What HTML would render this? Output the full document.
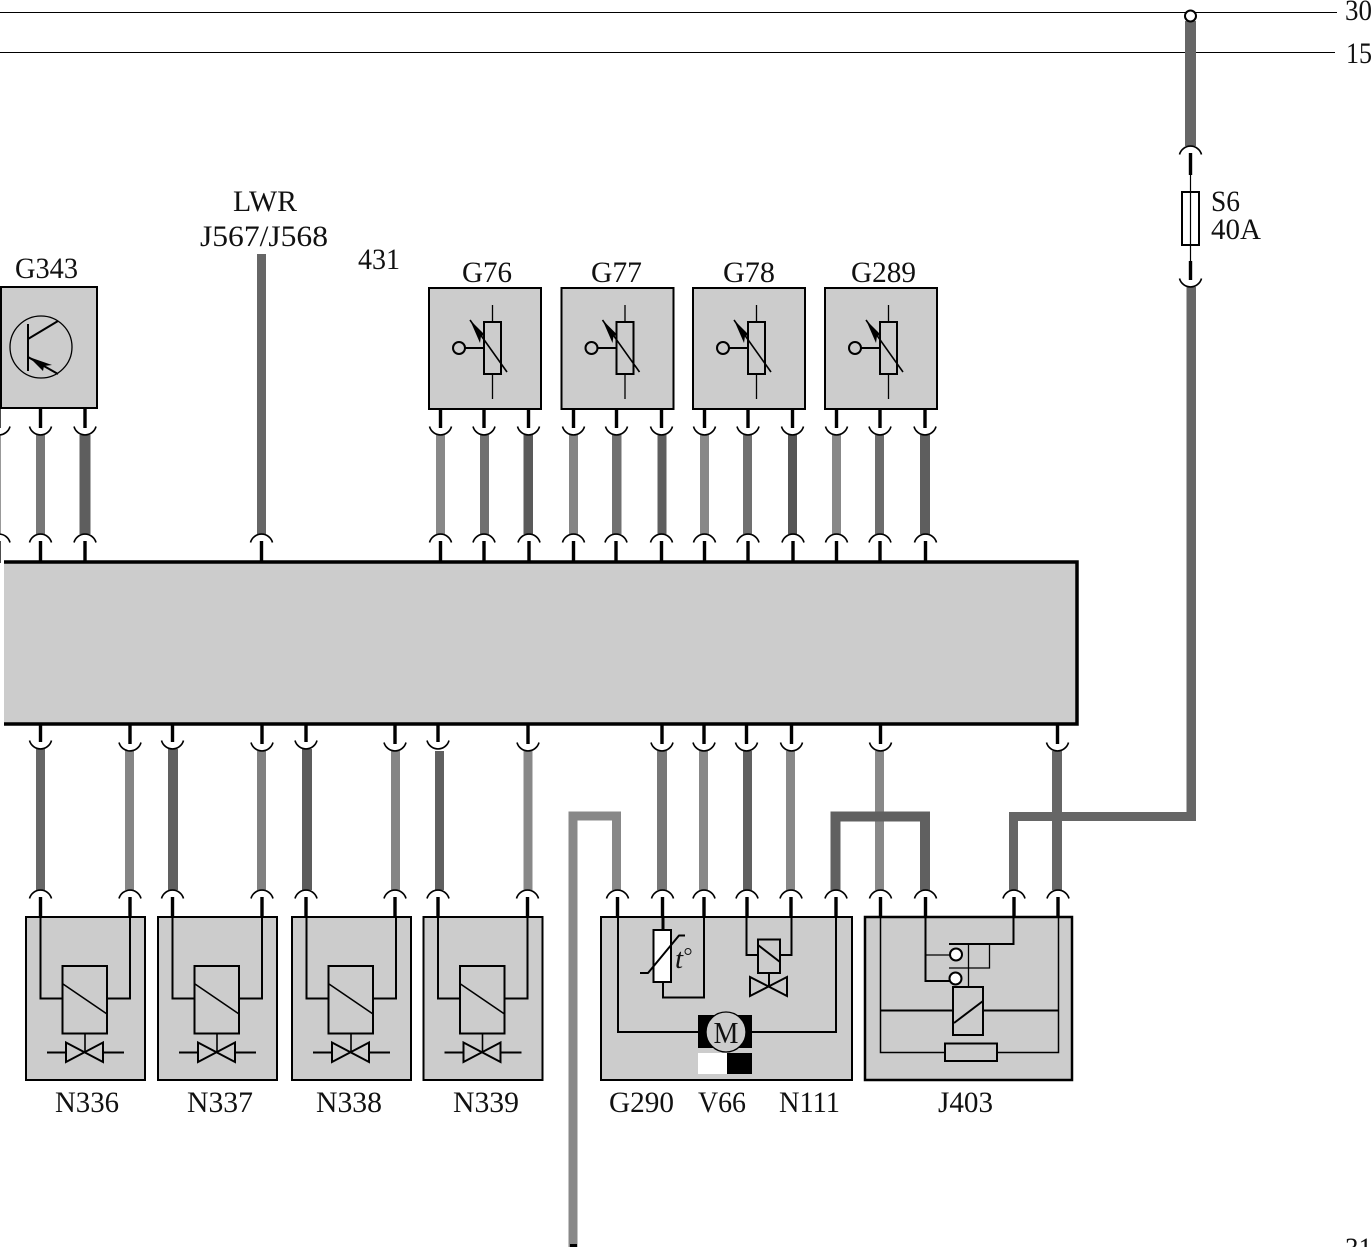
<!DOCTYPE html>
<html><head><meta charset="utf-8"><style>
html,body{margin:0;padding:0;background:#fff;width:1372px;height:1247px;overflow:hidden}
svg{display:block}
text{font-family:"Liberation Serif",serif;font-size:29.500px;fill:#111}
.b{fill:#ccc;stroke:#000;stroke-width:2}
.l{fill:none;stroke:#000;stroke-width:2}
.t{fill:none;stroke:#000;stroke-width:1.3}
.h{fill:none;stroke:#000;stroke-width:3}
</style></head><body>
<svg width="1372" height="1247" viewBox="0 0 1372 1247" xmlns="http://www.w3.org/2000/svg">
<defs>
<g id="u"><path d="M-11,-8.500A11.400,11.400 0 0 0 11,-8.500" fill="none" stroke="#000" stroke-width="1.600"/><line x1="0" y1="-26" x2="0" y2="-7" stroke="#000" stroke-width="3.400"/></g>
<g id="n"><path d="M-11,8.500A11.400,11.400 0 0 1 11,8.500" fill="none" stroke="#000" stroke-width="1.600"/><line x1="0" y1="7" x2="0" y2="29" stroke="#000" stroke-width="3.400"/></g>
<g id="res">
<rect x="429" y="288" width="112" height="121" class="b"/>
<path d="M492.500,305V322M492.500,374V399" class="t"/>
<rect x="484" y="322" width="17" height="52" class="l"/>
<circle cx="459" cy="348" r="6" fill="#ccc" stroke="#000" stroke-width="2"/>
<line x1="465" y1="348" x2="484" y2="348" class="l"/>
<line x1="470" y1="320" x2="507" y2="372" class="t" style="stroke-width:1.600"/>
<path d="M470,320L485,335L481,336L480,343Z" fill="#000"/>
</g>
<g id="sol">
<rect x="26" y="917" width="119" height="163" class="b"/>
<path d="M40.500,917V998.500H62M130,917V998.500H107" class="l"/>
<rect x="62.500" y="966" width="44.500" height="67.500" class="l"/>
<line x1="63" y1="984" x2="107" y2="1014" class="t" style="stroke-width:1.600"/>
<line x1="85" y1="1033" x2="85" y2="1052" class="t" style="stroke-width:1.600"/>
<path d="M66,1042.500V1062L103,1042.500V1062Z M47,1052.500H66M103,1052.500H124" class="l"/>
</g>
</defs>

<line x1="0" y1="12.500" x2="1337" y2="12.500" stroke="#000" stroke-width="1"/>
<line x1="0" y1="52.500" x2="1335" y2="52.500" stroke="#000" stroke-width="1"/>
<text x="1345" y="20" textLength="27" lengthAdjust="spacingAndGlyphs">30</text>
<text x="1346" y="63" textLength="26" lengthAdjust="spacingAndGlyphs">15</text>
<text x="1345" y="1258" textLength="27" lengthAdjust="spacingAndGlyphs">31</text>

<!-- feed wire and fuse -->
<rect x="1185" y="21" width="11" height="125" fill="#666"/>
<rect x="1186.500" y="287" width="9.500" height="534" fill="#666"/>
<rect x="1009" y="812" width="187" height="9" fill="#666"/>
<rect x="1009" y="812" width="9" height="78" fill="#666"/>
<circle cx="1190.500" cy="16" r="5.500" fill="#fff" stroke="#000" stroke-width="2"/>
<use href="#n" x="1190.500" y="146"/>
<use href="#u" x="1190.500" y="287"/>
<line x1="1190.500" y1="170" x2="1190.500" y2="265" stroke="#000" stroke-width="1.200"/>
<rect x="1182" y="192" width="17" height="53" class="l"/>
<text x="1211" y="211" textLength="29" lengthAdjust="spacingAndGlyphs">S6</text>
<text x="1211" y="239" textLength="50" lengthAdjust="spacingAndGlyphs">40A</text>

<!-- top wires -->
<g>
<rect x="-4" y="435" width="5" height="99" fill="#999"/>
<rect x="36" y="435" width="9" height="99" fill="#777"/>
<rect x="79.500" y="435" width="11" height="99" fill="#5e5e5e"/>
<rect x="257" y="254" width="9" height="280" fill="#666"/>
<rect x="436" y="435" width="9" height="99" fill="#888"/>
<rect x="480" y="435" width="9" height="99" fill="#707070"/>
<rect x="523.500" y="435" width="9.500" height="99" fill="#5a5a5a"/>
<rect x="569" y="435" width="9" height="99" fill="#858585"/>
<rect x="612" y="435" width="9.500" height="99" fill="#707070"/>
<rect x="657.500" y="435" width="9" height="99" fill="#5e5e5e"/>
<rect x="700" y="435" width="9" height="99" fill="#888"/>
<rect x="743" y="435" width="9" height="99" fill="#707070"/>
<rect x="788" y="435" width="9" height="99" fill="#565656"/>
<rect x="832" y="435" width="9" height="99" fill="#888"/>
<rect x="875" y="435" width="9" height="99" fill="#6c6c6c"/>
<rect x="920" y="435" width="10" height="99" fill="#5e5e5e"/>
</g>
<use href="#u" x="-1" y="435"/><use href="#u" x="40.500" y="435"/><use href="#u" x="85" y="435"/>
<use href="#u" x="440.500" y="435"/><use href="#u" x="484" y="435"/><use href="#u" x="528.500" y="435"/>
<use href="#u" x="573.500" y="435"/><use href="#u" x="616.500" y="435"/><use href="#u" x="661.500" y="435"/>
<use href="#u" x="704.500" y="435"/><use href="#u" x="748" y="435"/><use href="#u" x="792.500" y="435"/>
<use href="#u" x="836.500" y="435"/><use href="#u" x="880" y="435"/><use href="#u" x="925" y="435"/>
<use href="#n" x="-1" y="534"/><use href="#n" x="40.500" y="534"/><use href="#n" x="85" y="534"/><use href="#n" x="261.500" y="534"/>
<use href="#n" x="440.500" y="534"/><use href="#n" x="484" y="534"/><use href="#n" x="529" y="534"/>
<use href="#n" x="573.500" y="534"/><use href="#n" x="616" y="534"/><use href="#n" x="661.500" y="534"/>
<use href="#n" x="704.500" y="534"/><use href="#n" x="748" y="534"/><use href="#n" x="793" y="534"/>
<use href="#n" x="836.500" y="534"/><use href="#n" x="880" y="534"/><use href="#n" x="925.500" y="534"/>

<!-- bottom wires -->
<g>
<rect x="36" y="749" width="9" height="141" fill="#666"/>
<rect x="125" y="751" width="9" height="139" fill="#858585"/>
<rect x="168" y="749" width="10" height="141" fill="#606060"/>
<rect x="257" y="751" width="9" height="139" fill="#808080"/>
<rect x="302" y="749" width="10" height="141" fill="#5c5c5c"/>
<rect x="391" y="751" width="9" height="139" fill="#858585"/>
<rect x="435" y="751" width="9" height="139" fill="#606060"/>
<rect x="523.500" y="751" width="9" height="139" fill="#888"/>
<rect x="657" y="751" width="10" height="139" fill="#777"/>
<rect x="699" y="751" width="9" height="139" fill="#888"/>
<rect x="743" y="751" width="9" height="139" fill="#606060"/>
<rect x="786" y="751" width="9" height="139" fill="#888"/>
<rect x="875" y="751" width="9" height="139" fill="#888"/>
<rect x="1052" y="751" width="10" height="139" fill="#666"/>
</g>
<!-- routed wires -->
<path d="M573,1247V816H616.500V890" fill="none" stroke="#888" stroke-width="9"/>
<path d="M835.500,890V816.500H925V890" fill="none" stroke="#606060" stroke-width="10"/>
<rect x="570" y="1244" width="7" height="3" fill="#000"/>

<use href="#u" x="40.500" y="749"/><use href="#u" x="130" y="751"/><use href="#u" x="172.500" y="749"/><use href="#u" x="262" y="751"/>
<use href="#u" x="306" y="749"/><use href="#u" x="395" y="751"/><use href="#u" x="438" y="749"/><use href="#u" x="528" y="751"/>
<use href="#u" x="662" y="751"/><use href="#u" x="704" y="751"/><use href="#u" x="746.500" y="751"/><use href="#u" x="791.500" y="751"/>
<use href="#u" x="880.500" y="751"/><use href="#u" x="1057.500" y="751"/>
<use href="#n" x="40.500" y="890"/><use href="#n" x="130" y="890"/><use href="#n" x="172.500" y="890"/><use href="#n" x="262" y="890"/>
<use href="#n" x="306" y="890"/><use href="#n" x="395" y="890"/><use href="#n" x="438" y="890"/><use href="#n" x="527.500" y="890"/>
<use href="#n" x="617.500" y="890"/><use href="#n" x="662.500" y="890"/><use href="#n" x="704" y="890"/><use href="#n" x="747" y="890"/><use href="#n" x="791" y="890"/><use href="#n" x="836" y="890"/>
<use href="#n" x="880.500" y="890"/><use href="#n" x="925.500" y="890"/><use href="#n" x="1014" y="890"/><use href="#n" x="1058" y="890"/>

<!-- main box -->
<rect x="4" y="562" width="1073" height="162" fill="#ccc"/>
<path d="M4,562H1077V724H4" fill="none" stroke="#000" stroke-width="3.500"/>

<!-- G343 -->
<rect x="1" y="287" width="96" height="121" class="b"/>
<circle cx="41" cy="347" r="31" fill="none" stroke="#000" stroke-width="1.300"/>
<line x1="28" y1="324" x2="28" y2="371" class="l"/>
<line x1="28" y1="339" x2="58" y2="321" class="l"/>
<line x1="28" y1="357" x2="58" y2="374" class="l"/>
<path d="M29,357L52,365L44,366L43,371Z" fill="#000"/>

<!-- sensors -->
<use href="#res"/><use href="#res" x="132.500"/><use href="#res" x="264"/><use href="#res" x="396"/>
<!-- solenoids -->
<use href="#sol"/><use href="#sol" x="132"/><use href="#sol" x="266"/><use href="#sol" x="397.500"/>

<!-- G290 V66 N111 -->
<rect x="601" y="917" width="251" height="163" class="b"/>
<path d="M618,917V1032H698M752,1032H836V917" class="l"/>
<path d="M663,917V930" class="h"/>
<path d="M663,982V997.500H704V917" class="l"/>
<rect x="653.500" y="930" width="17.500" height="52" fill="#fff" stroke="#000" stroke-width="2"/>
<path d="M640,973H648L679,935.500H685" class="l" stroke-linejoin="round"/>
<text x="675" y="968" style="font-style:italic;font-size:29px">t</text>
<circle cx="688" cy="951.500" r="3" fill="none" stroke="#111" stroke-width="1"/>
<path d="M746.500,917V955H758M791.500,917V955H780" class="l"/>
<rect x="758" y="939.500" width="22" height="33.500" class="l"/>
<line x1="758" y1="945" x2="780" y2="962" class="l"/>
<path d="M769,973V986M750,977V996L787,977V996Z" class="l"/>
<rect x="698" y="1015" width="54" height="33" fill="#000"/>
<circle cx="726" cy="1032" r="20" fill="#ccc" stroke="#000" stroke-width="1.300"/>
<text x="713.500" y="1043" textLength="25" lengthAdjust="spacingAndGlyphs" style="font-size:31px">M</text>
<rect x="698" y="1053" width="29" height="21" fill="#fff"/>
<rect x="727" y="1053" width="25" height="21" fill="#000"/>

<!-- J403 -->
<rect x="865" y="917" width="207" height="163" fill="#ccc" stroke="#000" stroke-width="2.500"/>
<path d="M880.500,917V1052.500H945M997,1052.500H1058.500V917" class="l" style="stroke-width:1.500"/>
<path d="M880,1010.500H953M983,1010.500H1058" class="l"/>
<rect x="953" y="987" width="30" height="48" class="l"/>
<line x1="954" y1="1023" x2="983" y2="1001" class="l"/>
<rect x="945" y="1043.500" width="52" height="17.500" class="l"/>
<path d="M925.500,917V981H950" class="l"/>
<path d="M925.500,955H950" class="t"/>
<path d="M949,944H1013.500V917" class="l"/>
<path d="M968.500,944V987M989.500,944V968H949" class="t"/>
<circle cx="956" cy="954.500" r="6" fill="#fff" stroke="#000" stroke-width="2"/>
<circle cx="955.500" cy="978.500" r="6" fill="#fff" stroke="#000" stroke-width="2"/>

<!-- labels -->
<text x="15" y="278" textLength="63" lengthAdjust="spacingAndGlyphs">G343</text>
<text x="233" y="211" textLength="64" lengthAdjust="spacingAndGlyphs">LWR</text>
<text x="200" y="246" textLength="128" lengthAdjust="spacingAndGlyphs">J567/J568</text>
<text x="358" y="269" textLength="42" lengthAdjust="spacingAndGlyphs">431</text>
<text x="462" y="282" textLength="50" lengthAdjust="spacingAndGlyphs">G76</text>
<text x="591" y="282" textLength="51" lengthAdjust="spacingAndGlyphs">G77</text>
<text x="723" y="282" textLength="52" lengthAdjust="spacingAndGlyphs">G78</text>
<text x="851" y="282" textLength="65" lengthAdjust="spacingAndGlyphs">G289</text>
<text x="55" y="1112" textLength="64" lengthAdjust="spacingAndGlyphs">N336</text>
<text x="187" y="1112" textLength="66" lengthAdjust="spacingAndGlyphs">N337</text>
<text x="316" y="1112" textLength="66" lengthAdjust="spacingAndGlyphs">N338</text>
<text x="453" y="1112" textLength="66" lengthAdjust="spacingAndGlyphs">N339</text>
<text x="609" y="1112" textLength="65" lengthAdjust="spacingAndGlyphs">G290</text>
<text x="698" y="1112" textLength="48" lengthAdjust="spacingAndGlyphs">V66</text>
<text x="779" y="1112" textLength="61" lengthAdjust="spacingAndGlyphs">N111</text>
<text x="938" y="1112" textLength="55" lengthAdjust="spacingAndGlyphs">J403</text>
</svg>
</body></html>
